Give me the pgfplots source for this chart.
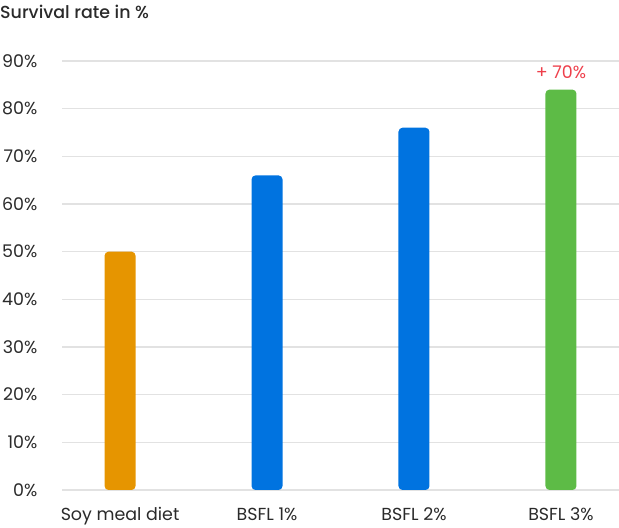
\documentclass[border=0pt]{standalone}
\usepackage{fontspec}
\setmainfont{Poppins}
\newfontfamily\titlefont{Poppins Medium}
\usepackage{pgfplots}
\pgfplotsset{compat=1.18}
\definecolor{cOrange}{HTML}{E69500}
\definecolor{cBlue}{HTML}{0073E0}
\definecolor{cGreen}{HTML}{5DBB46}
\definecolor{cRed}{HTML}{EE3F4B}
\definecolor{cGrid}{HTML}{E2E2E2}
\definecolor{cText}{HTML}{2A2A2A}
\begin{document}
\begin{tikzpicture}[x=1bp,y=1bp]
\useasboundingbox (0,0) rectangle (619,528);
\node[anchor=base west, inner sep=0pt, font=\fontsize{17.5}{20}\titlefont, text=cText] at (0,509.7) {Survival rate in \%};
\begin{axis}[
  at={(62bp,38bp)}, anchor=south west,
  scale only axis, width=557bp, height=429bp,
  xmin=-0.395, xmax=3.395, ymin=0, ymax=90,
  axis line style={draw=none},
  major tick length=0pt,
  ytick={0,10,...,90},
  ymajorgrids, grid style={cGrid, line width=1.5bp},
  xtick={0,1,2,3},
  xticklabels={Soy meal diet, BSFL 1\%, BSFL 2\%, BSFL 3\%},
  yticklabel={\pgfmathprintnumber{\tick}\%},
  /pgf/number format/assume math mode=true,
  tick label style={font=\fontsize{17.5}{20}\selectfont, text=cText},
  yticklabel style={anchor=east, inner sep=0pt, xshift=-24.5bp},
  xticklabel style={anchor=base, inner sep=0pt, yshift=-30.7bp},
  clip=false,
]
\addplot[ybar, bar width=31bp, bar shift=0pt, fill=cOrange, draw=none, rounded corners=4bp] coordinates {(0,50)};
\addplot[ybar, bar width=31bp, bar shift=0pt, fill=cBlue, draw=none, rounded corners=4bp] coordinates {(1,66) (2,76)};
\addplot[ybar, bar width=31bp, bar shift=0pt, fill=cGreen, draw=none, rounded corners=4bp] coordinates {(3,84)};
\node[anchor=base, inner sep=0pt, font=\fontsize{17.5}{20}\selectfont, text=cRed] at (axis cs:3,84) [yshift=11bp] {+ 70\%};
\end{axis}
\end{tikzpicture}
\end{document}
